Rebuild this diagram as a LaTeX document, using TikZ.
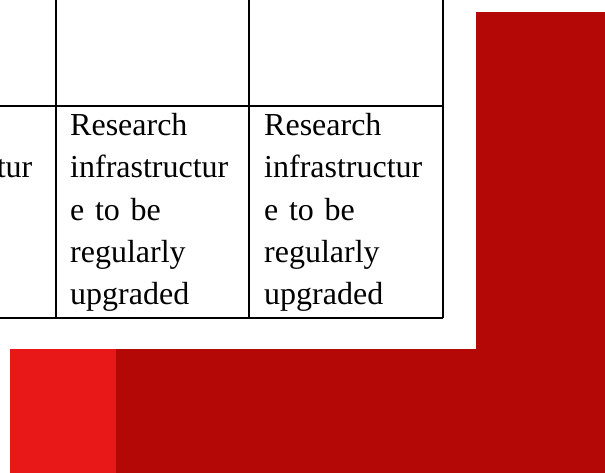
\documentclass[tikz,border=0pt]{standalone}
\usepackage{fontspec}
\setmainfont{Liberation Serif}
\definecolor{darkred}{RGB}{180,8,6}
\definecolor{lightred}{RGB}{232,24,24}
\newcommand{\cellfont}{\fontsize{32}{42.2}\selectfont}
\begin{document}
\begin{tikzpicture}[x=1pt,y=-1pt,
  grid/.style={line width=2.6pt,black},
  celltext/.style={anchor=north west,inner sep=0pt,text width=180pt,align=left,font=\cellfont}]
\useasboundingbox (0,0) rectangle (605,473);
\clip (0,0) rectangle (605,473);
% red shapes
\fill[darkred] (476,12) rectangle (605,473);
\fill[darkred] (116,349) rectangle (605,473);
\fill[lightred] (10,349) rectangle (116,473);
% table
\draw[grid] (-140,106) -- (443,106);
\draw[grid] (-140,318) -- (443,318);
\draw[grid] (56,-5) -- (56,318);
\draw[grid] (249,-5) -- (249,318);
\draw[grid] (443,-5) -- (443,318);
\node[celltext] (c1) at (-126,106.0) {\strut Research\\infrastructur\\e to be\\regularly\\upgraded};
\node[celltext] (c2) at (70,106.0) {\strut Research\\infrastructur\\e to be\\regularly\\upgraded};
\node[celltext] (c3) at (264,106.0) {\strut Research\\infrastructur\\e to be\\regularly\\upgraded};
\end{tikzpicture}
\end{document}
